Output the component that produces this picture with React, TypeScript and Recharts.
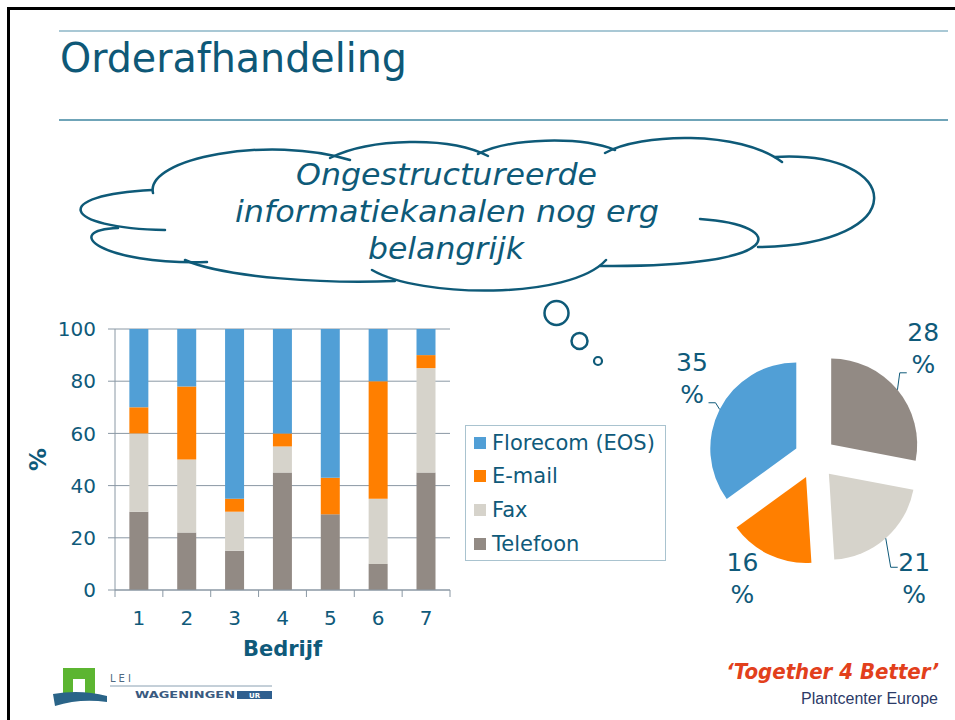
import React from 'react';
import { BarChart, Bar, XAxis, YAxis, CartesianGrid, Legend, Label, PieChart, Pie, Sector } from 'recharts';

// ---------- data ----------
const COMPANIES = ['1', '2', '3', '4', '5', '6', '7'];
const TELEFOON = [30, 22, 15, 45, 29, 10, 45];
const FAX = [30, 28, 15, 10, 0, 25, 40];
const EMAIL = [10, 28, 5, 5, 14, 45, 5];
const FLORECOM = [30, 22, 65, 40, 57, 20, 10];
const Y_TICKS = [0, 20, 40, 60, 80, 100];

const PIE_CHANNELS = ['Telefoon', 'Fax', 'E-mail', 'Florecom (EOS)'];
const PIE_SHARES = [28, 21, 16, 35];

// ---------- styles ----------
const TEXT = '#0f5a7a';
const GRID = '#8a98a4';
const C_TEL = '#928a84';
const C_FAX = '#d6d3cb';
const C_MAIL = '#ff7f00';
const C_FLO = '#519fd6';
const PIE_COLORS = [C_TEL, C_FAX, C_MAIL, C_FLO];
const FONT = "'DejaVu Sans', Verdana, sans-serif";

const SERIES = [
  { key: 'telefoon', name: 'Telefoon', color: C_TEL },
  { key: 'fax', name: 'Fax', color: C_FAX },
  { key: 'email', name: 'E-mail', color: C_MAIL },
  { key: 'florecom', name: 'Florecom (EOS)', color: C_FLO },
];

const barData = COMPANIES.map((c, i) => ({
  company: c,
  telefoon: TELEFOON[i],
  fax: FAX[i],
  email: EMAIL[i],
  florecom: FLORECOM[i],
}));

const pieData = PIE_CHANNELS.map((n, i) => ({ name: n, value: PIE_SHARES[i] }));

// bar chart layout
const BC = { left: 0, top: 300, width: 680, height: 370, mTop: 29, mRight: 230, mLeft: 0, mBottom: 20, yW: 115, xH: 60 };
const PLOT_W = BC.width - BC.mRight - BC.mLeft - BC.yW;
const BAND = PLOT_W / COMPANIES.length;

// pie layout
const PC = { left: 640, top: 300, width: 315, height: 320, cx: 175, cy: 158, r: 86, explode: 21, labelGap: 40 };
const LABEL_NUDGE = [[-5, -16], [2, 10], [-10, -13], [8, -13]];
const LABEL_LINE = [true, true, false, true];

const RAD = Math.PI / 180;
const polar = (cx: number, cy: number, r: number, a: number) => ({
  x: cx + r * Math.cos(-a * RAD),
  y: cy + r * Math.sin(-a * RAD),
});

function XTick(props: any) {
  const { x, y, payload, index } = props;
  const isLast = index === COMPANIES.length - 1;
  return (
    <g>
      <line x1={x - BAND / 2} x2={x - BAND / 2} y1={y} y2={y + 7} stroke={GRID} />
      {isLast && <line x1={x + BAND / 2} x2={x + BAND / 2} y1={y} y2={y + 7} stroke={GRID} />}
      <text x={x} y={y + 35} textAnchor="middle" fontSize={20} fill={TEXT} fontFamily={FONT}>
        {payload.value}
      </text>
    </g>
  );
}

const renderXLabel = (props: any) => {
  const vb = props.viewBox;
  return (
    <text x={vb.x + vb.width / 2} y={vb.y + 66} textAnchor="middle" fontSize={21} fontWeight="bold" fill={TEXT} fontFamily={FONT}>
      Bedrijf
    </text>
  );
};

const renderYLabel = (props: any) => {
  const vb = props.viewBox;
  const cx = vb.x + 38;
  const cy = vb.y + vb.height / 2;
  return (
    <text x={cx} y={cy} transform={`rotate(-90 ${cx} ${cy})`} textAnchor="middle" dominantBaseline="central" fontSize={23} fontWeight="bold" fill={TEXT} fontFamily={FONT}>
      %
    </text>
  );
};

const renderLegend = () => (
  <div
    style={{
      boxSizing: 'border-box',
      width: 201,
      height: 136,
      border: '1px solid #a9c3cf',
      paddingLeft: 8,
      fontFamily: FONT,
      fontSize: 21,
      color: TEXT,
      background: '#fff',
    }}
  >
    {[...SERIES].reverse().map((s) => (
      <div key={s.key} style={{ display: 'flex', alignItems: 'center', height: 33.6, whiteSpace: 'nowrap' }}>
        <span style={{ display: 'inline-block', width: 12, height: 12, background: s.color, marginRight: 6 }} />
        <span>{s.name}</span>
      </div>
    ))}
  </div>
);

const renderSlice = (props: any) => {
  const { cx, cy, outerRadius, startAngle, endAngle, index } = props;
  const mid = (startAngle + endAngle) / 2;
  const c = polar(cx, cy, PC.explode, mid);
  const lp = polar(c.x, c.y, outerRadius + PC.labelGap, mid);
  const lx = lp.x + LABEL_NUDGE[index][0];
  const ly = lp.y + LABEL_NUDGE[index][1];
  const arc = polar(c.x, c.y, outerRadius, mid);
  let line: any = null;
  if (LABEL_LINE[index]) {
    const side = arc.x < lx ? -1 : 1;
    const ex = lx + side * 16.5;
    const ey = arc.y < ly ? ly - 11 : ly + 24.5;
    const bx = ex + side * 7;
    line = <polyline points={`${arc.x},${arc.y} ${bx},${ey} ${ex},${ey}`} fill="none" stroke={TEXT} strokeWidth={1} />;
  }
  return (
    <g key={`slice-${index}`}>
      <Sector cx={c.x} cy={c.y} innerRadius={0} outerRadius={outerRadius} startAngle={startAngle} endAngle={endAngle} fill={PIE_COLORS[index]} stroke="none" />
      {line}
      <text textAnchor="middle" fontSize={25} fill={TEXT} fontFamily={FONT}>
        <tspan x={lx} y={ly - 7}>{PIE_SHARES[index]}</tspan>
        <tspan x={lx} y={ly + 25}>%</tspan>
      </text>
    </g>
  );
};

function Decorations() {
  const cloudLobes = [
    'M153 193 C145 158, 270 135, 350 160',
    'M330 158 C370 138, 450 136, 488 156',
    'M478 154 C510 138, 580 136, 615 150',
    'M605 153 C640 133, 740 130, 782 162',
    'M775 157 C905 150, 915 245, 758 247',
    'M700 219 C790 225, 790 268, 600 266',
    'M606 260 C570 300, 420 298, 372 270',
    'M395 281 C330 284, 225 278, 185 260',
    'M207 262 C100 265, 60 230, 118 228',
    'M165 230 C60 228, 50 195, 152 190',
  ];
  return (
    <svg width={955} height={720} style={{ position: 'absolute', left: 0, top: 0 }}>
      <rect x={0} y={0} width={955} height={720} fill="#fff" />
      {/* frame */}
      <line x1={7} y1={8.5} x2={955} y2={8.5} stroke="#000" strokeWidth={3} />
      <line x1={8.5} y1={7} x2={8.5} y2={720} stroke="#000" strokeWidth={3} />
      {/* header lines */}
      <line x1={59} y1={31} x2={948} y2={31} stroke="#a9c8d5" strokeWidth={2} />
      <line x1={59} y1={120} x2={948} y2={120} stroke="#3f86a0" strokeWidth={1.5} />
      <text x={60} y={72} fontSize={41} fill="#0e5877" fontFamily="'DejaVu Sans Condensed', 'DejaVu Sans', sans-serif" textLength={347} lengthAdjust="spacingAndGlyphs">
        Orderafhandeling
      </text>
      {/* cloud */}
      {cloudLobes.map((d, i) => (
        <path key={i} d={d} fill="none" stroke="#0e5a78" strokeWidth={2.5} strokeLinecap="round" />
      ))}
      <circle cx={556.5} cy={313} r={12} fill="none" stroke="#0e5a78" strokeWidth={2.5} />
      <circle cx={579.5} cy={341} r={8} fill="none" stroke="#0e5a78" strokeWidth={2.5} />
      <circle cx={598} cy={361} r={4} fill="none" stroke="#0e5a78" strokeWidth={2.2} />
      <g fontFamily={FONT} fontStyle="italic" fontSize={30} fill="#0e5a78">
        <text x={296} y={185} textLength={301} lengthAdjust="spacingAndGlyphs">Ongestructureerde</text>
        <text x={235} y={222} textLength={424} lengthAdjust="spacingAndGlyphs">informatiekanalen nog erg</text>
        <text x={368} y={259} textLength={156} lengthAdjust="spacingAndGlyphs">belangrijk</text>
      </g>
      {/* LEI Wageningen UR logo */}
      <rect x={63} y={668} width={32} height={27} fill="#5cb531" />
      <rect x={73} y={679} width={12} height={16} fill="#fff" />
      <path d="M53 694 Q80 689 107 696 L107 702 Q80 698 55 706 Z" fill="#2a6488" />
      <text x={110} y={682} fontSize={10} fill="#4f6a82" fontFamily={FONT} letterSpacing={3}>LEI</text>
      <line x1={110} y1={686} x2={272} y2={686} stroke="#8aa0b2" strokeWidth={1} />
      <text x={135} y={698} fontSize={8} fontWeight="bold" fill="#3a5a80" fontFamily={FONT} textLength={100} lengthAdjust="spacingAndGlyphs">WAGENINGEN</text>
      <rect x={237} y={691} width={35} height={8} fill="#2f5f8f" />
      <text x={254.5} y={698} fontSize={7} fontWeight="bold" fill="#fff" fontFamily={FONT} textAnchor="middle">UR</text>
      {/* right footer */}
      <text x={939} y={679} fontSize={22} fontWeight="bold" fontStyle="italic" fill="#e2401c" fontFamily="'DejaVu Sans Condensed', 'DejaVu Sans', sans-serif" textAnchor="end">
        ‘Together 4 Better’
      </text>
      <text x={938} y={704} fontSize={16} fill="#2b3a67" fontFamily="'Liberation Sans Narrow', 'Liberation Sans', Arial, sans-serif" textAnchor="end">
        Plantcenter Europe
      </text>
    </svg>
  );
}

export default function App() {
  return (
    <div style={{ position: 'absolute', left: 0, top: 0, width: 955, height: 720, overflow: 'hidden', fontFamily: FONT, background: '#fff' }}>
      <Decorations />
      <div style={{ position: 'absolute', left: BC.left, top: BC.top }}>
        <BarChart
          width={BC.width}
          height={BC.height}
          data={barData}
          margin={{ top: BC.mTop, right: BC.mRight, left: BC.mLeft, bottom: BC.mBottom }}
          barCategoryGap="30%"
        >
          <CartesianGrid vertical={false} stroke={GRID} />
          <XAxis
            dataKey="company"
            height={BC.xH}
            interval={0}
            tickSize={0}
            tickMargin={0}
            tickLine={false}
            axisLine={{ stroke: GRID }}
            tick={<XTick />}
          >
            <Label content={renderXLabel} />
          </XAxis>
          <YAxis
            width={BC.yW}
            domain={[0, 100]}
            ticks={Y_TICKS}
            tickSize={7}
            tickMargin={12}
            tickLine={{ stroke: GRID }}
            axisLine={{ stroke: GRID }}
            tick={{ fontSize: 20, fill: TEXT, fontFamily: FONT }}
          >
            <Label content={renderYLabel} />
          </YAxis>
          <Legend
            layout="horizontal"
            verticalAlign="middle"
            align="center"
            wrapperStyle={{ left: 465, top: 125, width: 201, height: 136 }}
            content={renderLegend}
          />
          {SERIES.map((s) => (
            <Bar key={s.key} dataKey={s.key} name={s.name} stackId="a" fill={s.color} isAnimationActive={false} />
          ))}
        </BarChart>
      </div>
      <div style={{ position: 'absolute', left: PC.left, top: PC.top }}>
        <PieChart width={PC.width} height={PC.height} margin={{ top: 0, right: 0, bottom: 0, left: 0 }}>
          <Pie
            data={pieData}
            dataKey="value"
            nameKey="name"
            cx={PC.cx}
            cy={PC.cy}
            outerRadius={PC.r}
            startAngle={90}
            endAngle={-270}
            fill="transparent"
            stroke="none"
            labelLine={false}
            label={renderSlice}
            isAnimationActive={false}
          />
        </PieChart>
      </div>
    </div>
  );
}
